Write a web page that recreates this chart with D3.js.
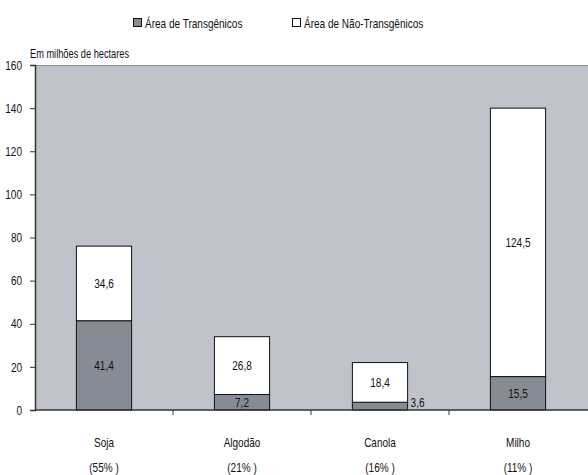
<!DOCTYPE html>
<html>
<head>
<meta charset="utf-8">
<script src="https://cdn.jsdelivr.net/npm/d3@7"></script>
<style>
  body { margin: 0; background: #fff; }
  svg text { font-family: "Liberation Sans", Arial, sans-serif; font-size: 13px; fill: #111; }
</style>
</head>
<body>
<div class="chart"></div>
<script>
// categories and values (milhões de hectares)
var crops = ['Soja', 'Algodão', 'Canola', 'Milho']
var shares = ['(55% )', '(21% )', '(16% )', '(11% )']
var transgenic = [41.4, 7.2, 3.6, 15.5]
var nonTransgenic = [34.6, 26.8, 18.4, 124.5]
var yTicks = [0, 20, 40, 60, 80, 100, 120, 140, 160]
var seriesNames = ['Área de Transgênicos', 'Área de Não-Transgênicos']

var width = 588, height = 475
var margin = { top: 65, right: 1, bottom: 65, left: 35 }

var svg = d3.select('.chart').append('svg')
  .attr('width', width)
  .attr('height', height)

var x = d3.scaleBand()
  .domain(crops)
  .range([margin.left, width - margin.right])
  .paddingInner(0.6)
  .paddingOuter(0.3)

var y = d3.scaleLinear()
  .domain([0, 160])
  .range([height - margin.bottom, margin.top])

var fmt = v => String(v).replace('.', ',')

// plot background
svg.append('rect')
  .attr('x', margin.left)
  .attr('y', margin.top)
  .attr('width', width - margin.left)
  .attr('height', y(0) - margin.top)
  .attr('fill', '#c0c3ca')

svg.append('line')
  .attr('x1', margin.left).attr('x2', width)
  .attr('y1', margin.top + 0.5).attr('y2', margin.top + 0.5)
  .attr('stroke', '#8a8c90')

// stacked data
var rows = crops.map((c, i) => ({
  crop: c,
  segs: [
    { key: 0, y0: 0, y1: transgenic[i], v: transgenic[i] },
    { key: 1, y0: transgenic[i], y1: transgenic[i] + nonTransgenic[i], v: nonTransgenic[i] }
  ]
}))

var colors = ['#878c94', '#ffffff']

var groups = svg.selectAll('g.bar')
  .data(rows)
  .enter().append('g')
  .attr('class', 'bar')

groups.selectAll('rect')
  .data(d => d.segs.map(s => Object.assign({ crop: d.crop }, s)))
  .enter().append('rect')
  .attr('x', d => x(d.crop))
  .attr('width', x.bandwidth())
  .attr('y', d => y(d.y1))
  .attr('height', d => y(d.y0) - y(d.y1))
  .attr('fill', d => colors[d.key])
  .attr('stroke', '#111')
  .attr('stroke-width', 1)

// value labels: centred in the segment, beside it when it is too thin
groups.selectAll('text.val')
  .data(d => d.segs.map(s => Object.assign({ crop: d.crop }, s)))
  .enter().append('text')
  .attr('class', 'val')
  .attr('x', d => {
    var h = y(d.y0) - y(d.y1)
    return h < 12 ? x(d.crop) + x.bandwidth() + 3 : x(d.crop) + x.bandwidth() / 2
  })
  .attr('y', d => {
    var h = y(d.y0) - y(d.y1)
    return h < 12 ? y(d.y0) - 3 : (y(d.y0) + y(d.y1)) / 2 + 4.5
  })
  .attr('text-anchor', d => (y(d.y0) - y(d.y1)) < 12 ? 'start' : 'middle')
  .text(d => fmt(d.v))

// y axis
var yAxis = svg.append('g')
  .attr('transform', 'translate(' + margin.left + ',0)')
  .call(d3.axisLeft(y).tickValues(yTicks).tickSize(5).tickPadding(8))
yAxis.select('.domain').attr('stroke', '#333').attr('stroke-width', 1.5)
yAxis.selectAll('.tick line').attr('stroke', '#333')
yAxis.selectAll('text').style('font-size', '13px').attr('fill', '#111')

// x axis: ticks between categories
svg.append('line')
  .attr('x1', margin.left).attr('x2', width)
  .attr('y1', y(0)).attr('y2', y(0))
  .attr('stroke', '#333').attr('stroke-width', 1.5)

var step = x.step()
svg.selectAll('line.xtick')
  .data(crops.slice(1))
  .enter().append('line')
  .attr('class', 'xtick')
  .attr('x1', d => x(d) - (step - x.bandwidth()) / 2)
  .attr('x2', d => x(d) - (step - x.bandwidth()) / 2)
  .attr('y1', y(0)).attr('y2', y(0) + 5)
  .attr('stroke', '#333')

svg.selectAll('text.cat')
  .data(crops)
  .enter().append('text')
  .attr('class', 'cat')
  .attr('x', d => x(d) + x.bandwidth() / 2)
  .attr('y', y(0) + 37)
  .attr('text-anchor', 'middle')
  .text(d => d)

svg.selectAll('text.share')
  .data(shares)
  .enter().append('text')
  .attr('class', 'share')
  .attr('x', (d, i) => x(crops[i]) + x.bandwidth() / 2)
  .attr('y', y(0) + 62)
  .attr('text-anchor', 'middle')
  .text(d => d)

// unit label
svg.append('text')
  .attr('x', 30)
  .attr('y', 58)
  .style('font-size', '12px')
  .text('Em milhões de hectares')

// legend
var legendX = [133, 292]
var legend = svg.selectAll('g.legend')
  .data(seriesNames)
  .enter().append('g')
  .attr('class', 'legend')
  .attr('transform', (d, i) => 'translate(' + legendX[i] + ',18)')

legend.append('rect')
  .attr('x', 0.5).attr('y', 0.5)
  .attr('width', 8).attr('height', 8)
  .attr('fill', (d, i) => colors[i])
  .attr('stroke', '#111')

legend.append('text')
  .attr('x', 12)
  .attr('y', 9.5)
  .text(d => d)

// the original uses a narrow face; squeeze the glyphs to match
svg.selectAll('text').each(function () {
  var w = this.getComputedTextLength()
  if (w > 0) {
    d3.select(this)
      .attr('textLength', (w * 0.77).toFixed(1))
      .attr('lengthAdjust', 'spacingAndGlyphs')
  }
})
</script>
</body>
</html>
